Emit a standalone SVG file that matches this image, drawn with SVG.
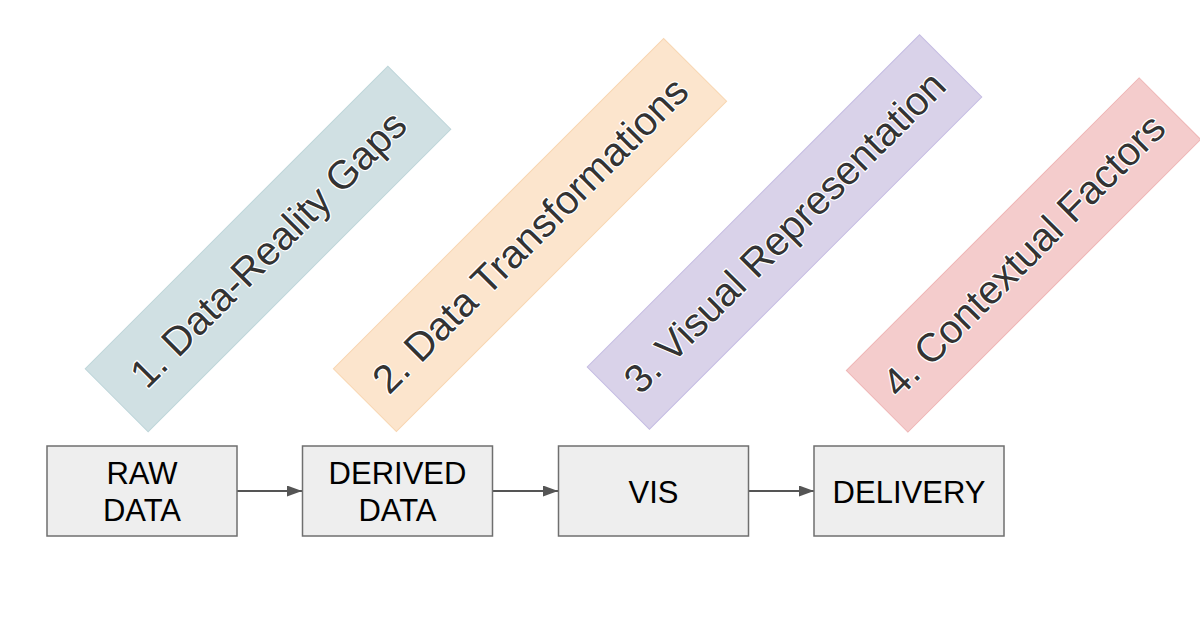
<svg xmlns="http://www.w3.org/2000/svg" width="1200" height="628" viewBox="0 0 1200 628">
  <defs>
    <style>
      .band text { font-family: "Liberation Sans", Arial, sans-serif; font-size: 40px; fill: #333333; stroke: #ffffff; stroke-width: 2.5px; paint-order: stroke; stroke-linejoin: round; text-anchor: middle; }
      .box rect { fill: #eeeeee; stroke: #6f6f6f; stroke-width: 1.5; }
      .box text { font-family: "Liberation Sans", Arial, sans-serif; font-size: 31px; fill: #000000; text-anchor: middle; }
      .conn line { stroke: #555555; stroke-width: 2; }
    </style>
    <marker id="arrow" viewBox="0 0 15 11" refX="15" refY="5.5" markerWidth="15" markerHeight="11" markerUnits="userSpaceOnUse" orient="auto">
      <path d="M0,0 L15,5.5 L0,11 Z" fill="#555555"/>
    </marker>
  </defs>
  <rect width="1200" height="628" fill="#ffffff"/>

  <g id="band1" class="band" transform="translate(268,249) rotate(-45)">
    <rect x="-214" y="-44.5" width="428" height="89" fill="#d0e0e3" stroke="#bfd6da" stroke-width="1"/>
    <text x="0" y="14">1. Data-Reality Gaps</text>
  </g>
  <g id="band2" class="band" transform="translate(530,235) rotate(-45)">
    <rect x="-233.5" y="-44.5" width="467" height="89" fill="#fce5cd" stroke="#f8d6b2" stroke-width="1"/>
    <text x="0" y="14">2. Data Transformations</text>
  </g>
  <g id="band3" class="band" transform="translate(784.5,232) rotate(-45)">
    <rect x="-235" y="-44" width="470" height="88" fill="#d9d2e9" stroke="#c6bde3" stroke-width="1"/>
    <text x="0" y="14">3. Visual Representation</text>
  </g>
  <g id="band4" class="band" transform="translate(1023.5,255) rotate(-45)">
    <rect x="-207" y="-43.5" width="414" height="87" fill="#f4cccc" stroke="#eeb5b5" stroke-width="1"/>
    <text x="0" y="14">4. Contextual Factors</text>
  </g>

  <g id="connectors" class="conn">
    <line x1="237" y1="491" x2="302" y2="491" marker-end="url(#arrow)"/>
    <line x1="493" y1="491" x2="558" y2="491" marker-end="url(#arrow)"/>
    <line x1="749" y1="491" x2="814" y2="491" marker-end="url(#arrow)"/>
  </g>

  <g id="raw-data" class="box">
    <rect x="47" y="446" width="190" height="90"/>
    <text x="142" y="484">RAW</text>
    <text x="142" y="521">DATA</text>
  </g>
  <g id="derived-data" class="box">
    <rect x="302.5" y="446" width="190" height="90"/>
    <text x="397.5" y="484">DERIVED</text>
    <text x="397.5" y="521">DATA</text>
  </g>
  <g id="vis" class="box">
    <rect x="558.5" y="446" width="190" height="90"/>
    <text x="653.5" y="502.5">VIS</text>
  </g>
  <g id="delivery" class="box">
    <rect x="814" y="446" width="190" height="90"/>
    <text x="909" y="502.5">DELIVERY</text>
  </g>
</svg>
